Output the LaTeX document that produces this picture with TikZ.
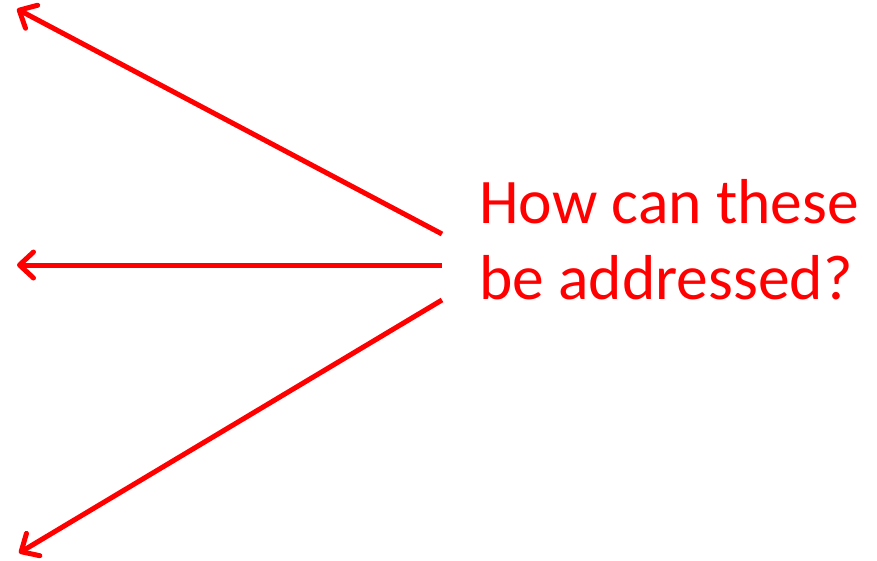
\documentclass[tikz,border=0pt]{standalone}
\usepackage{fontspec}
\setmainfont{Carlito}
\usetikzlibrary{arrows.meta}
\definecolor{myred}{RGB}{255,0,0}
\tikzset{
  redarrow/.style={draw=myred, line width=5pt, -{Straight Barb[length=14pt,width=26pt,round]}},
  label/.style={text=myred, font=\fontsize{63.5pt}{76pt}\selectfont, align=left, inner sep=0pt, anchor=base west}
}
\begin{document}
\begin{tikzpicture}[x=1pt,y=-1pt]
\useasboundingbox (0,0) rectangle (877,560);
\node[label] (q) at (479,299) {How can these\\be addressed?};
\coordinate (s1) at (442,234);
\coordinate (s2) at (442,265);
\coordinate (s3) at (442,300);
\coordinate (t1) at (17,9);
\coordinate (t2) at (17,265);
\coordinate (t3) at (19,553);
\draw[redarrow] (s1) -- (t1);
\draw[redarrow] (s2) -- (t2);
\draw[redarrow] (s3) -- (t3);
\end{tikzpicture}
\end{document}
